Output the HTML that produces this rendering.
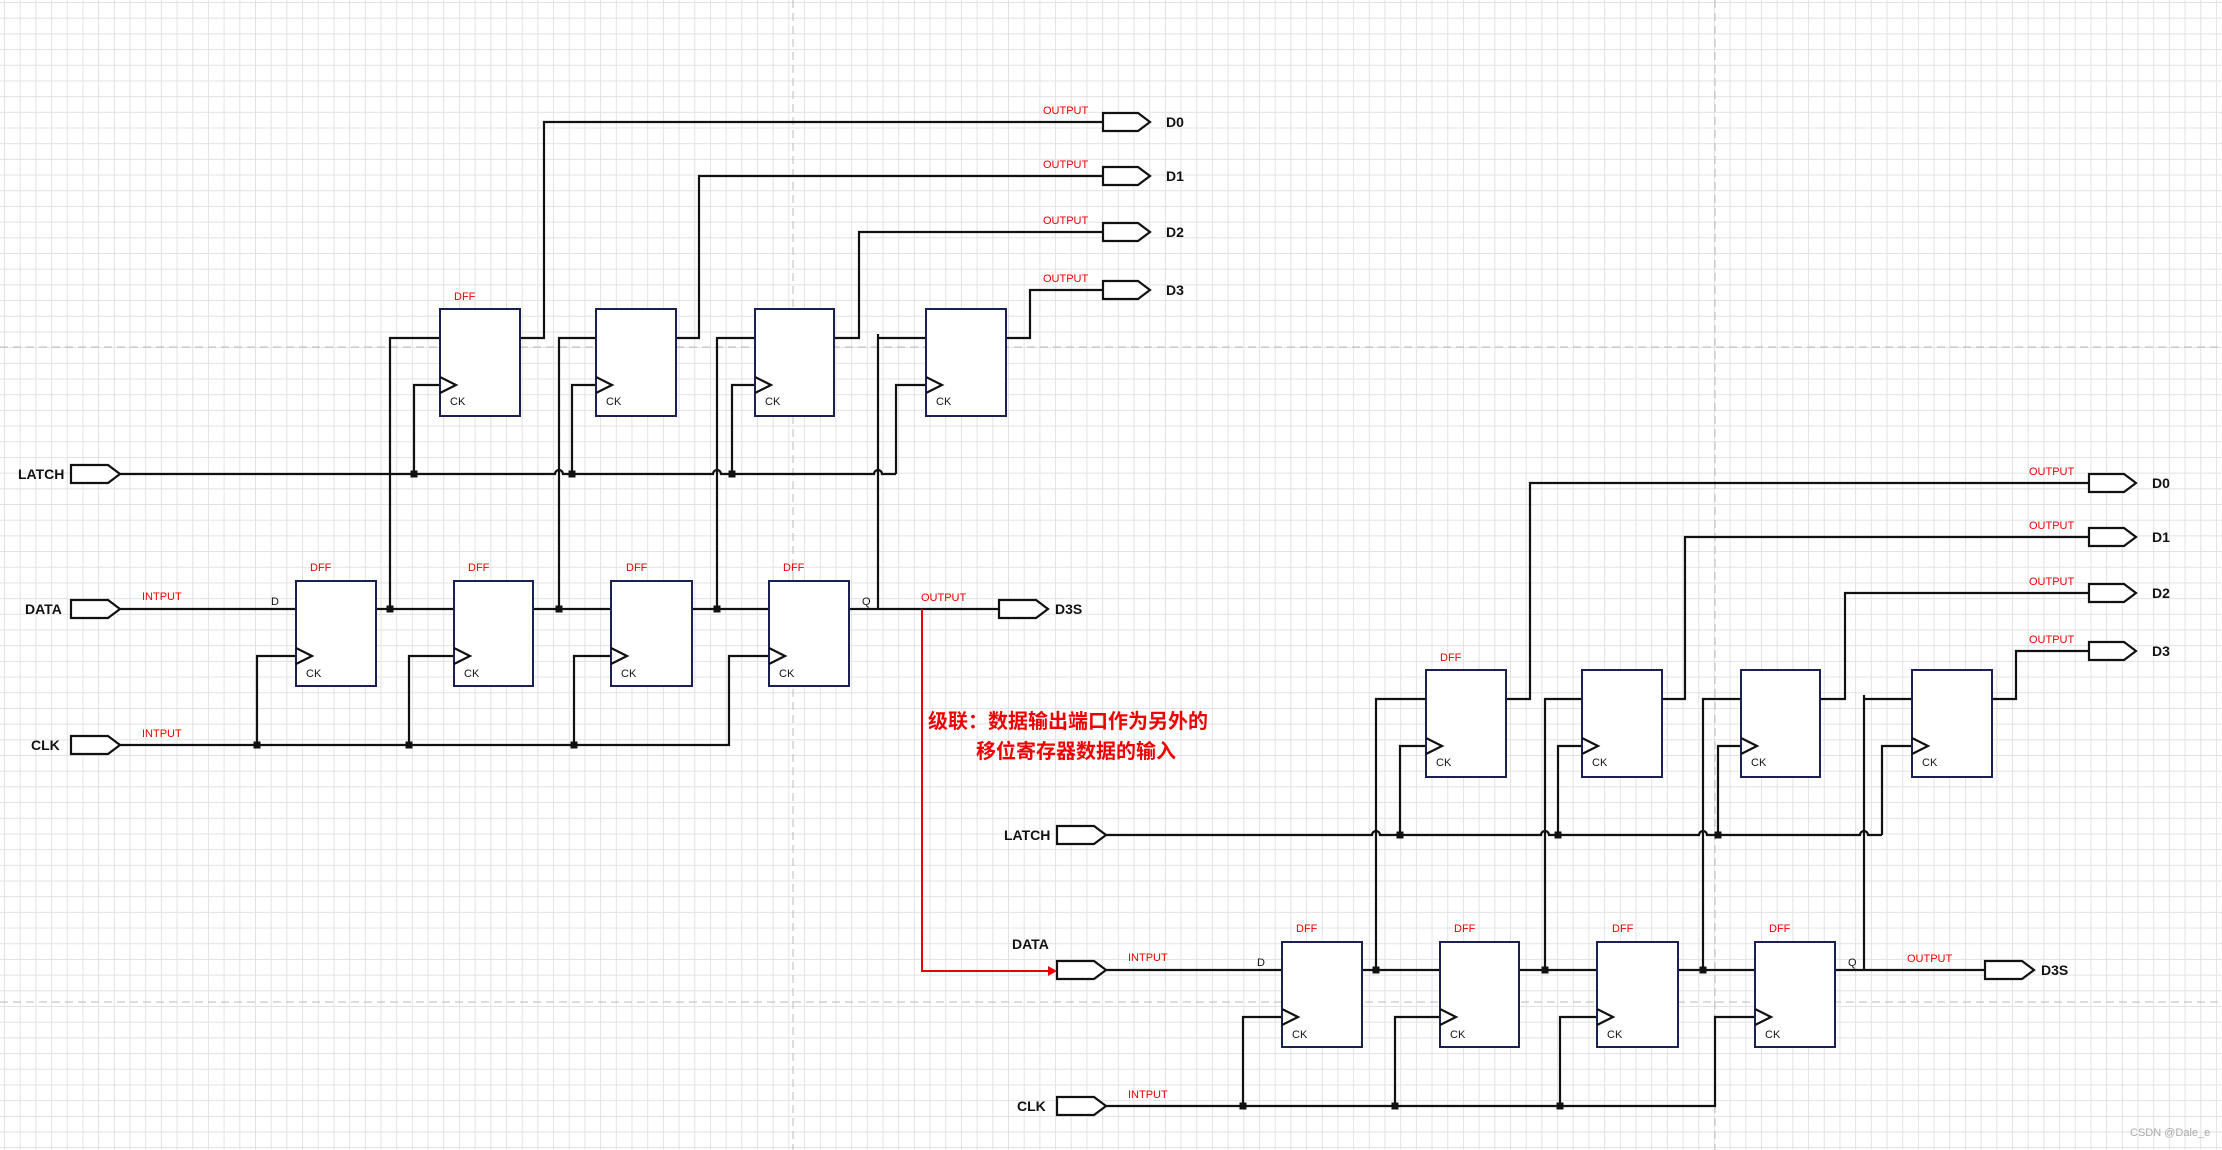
<!DOCTYPE html>
<html><head><meta charset="utf-8"><style>
html,body{margin:0;padding:0;background:#fff;}
body{width:2222px;height:1150px;overflow:hidden;
background-image:linear-gradient(to right,#e2e2e2 1px,transparent 1px),linear-gradient(to bottom,#e2e2e2 1px,transparent 1px);
background-size:15.7px 15.7px;background-position:4px 2px;}
svg{position:absolute;left:0;top:0;}
text{font-family:"Liberation Sans","Noto Sans CJK SC",sans-serif;}
.w{stroke:#111;stroke-width:2.2;fill:none;}
.b{stroke:#1a2050;stroke-width:2;fill:#fff;}
.p{stroke:#111;stroke-width:2.2;fill:#fff;}
.r{fill:#e00;font-size:11px;}
.k{fill:#111;font-size:11px;}
.l{fill:#111;font-size:14px;font-weight:bold;}
</style></head><body>
<svg width="2222" height="1150" xmlns="http://www.w3.org/2000/svg">
<g stroke="#bbb" stroke-width="1" stroke-dasharray="8,5">
<line x1="793" y1="0" x2="793" y2="1150"/><line x1="1715" y1="0" x2="1715" y2="1150"/>
<line x1="0" y1="347" x2="2222" y2="347"/><line x1="0" y1="1002" x2="2222" y2="1002"/>
</g>

<g id="c1">
<path class="w" d="M120 609H296 M376 609H454 M533 609H611 M692 609H769 M849 609H999"/>
<path class="w" d="M390 609V338H440 M559 609V338H596 M717 609V338H755 M878 609V334 M878 338H926"/>
<path class="w" d="M414 474V385H440 M572 474V385H596 M732 474V385H755 M896 474V385H926"/>
<path class="w" d="M120 474H555 a4 4 0 0 1 8 0 H713 a4 4 0 0 1 8 0 H874 a4 4 0 0 1 8 0 H896"/>
<path class="w" d="M120 745H729V656H769 M257 745V656H296 M409 745V656H454 M574 745V656H611"/>
<path class="w" d="M520 338H544V122H1103 M676 338H699V176H1103 M834 338H859V232H1103 M1006 338H1030V290H1103"/>
<g fill="#111">
<rect x="386.5" y="605.5" width="7" height="7"/><rect x="555.5" y="605.5" width="7" height="7"/><rect x="713.5" y="605.5" width="7" height="7"/>
<rect x="410.5" y="470.5" width="7" height="7"/><rect x="568.5" y="470.5" width="7" height="7"/><rect x="728.5" y="470.5" width="7" height="7"/>
<rect x="253.5" y="741.5" width="7" height="7"/><rect x="405.5" y="741.5" width="7" height="7"/><rect x="570.5" y="741.5" width="7" height="7"/>
</g>
<g class="b">
<rect x="296" y="581" width="80" height="105"/><rect x="454" y="581" width="79" height="105"/><rect x="611" y="581" width="81" height="105"/><rect x="769" y="581" width="80" height="105"/>
<rect x="440" y="309" width="80" height="107"/><rect x="596" y="309" width="80" height="107"/><rect x="755" y="309" width="79" height="107"/><rect x="926" y="309" width="80" height="107"/>
</g>
<g class="w" fill="#fff">
<path d="M296 648L312 656L296 664"/><path d="M454 648L470 656L454 664"/><path d="M611 648L627 656L611 664"/><path d="M769 648L785 656L769 664"/>
<path d="M440 377L456 385L440 393"/><path d="M596 377L612 385L596 393"/><path d="M755 377L771 385L755 393"/><path d="M926 377L942 385L926 393"/>
</g>
<g class="k">
<text x="306" y="677">CK</text><text x="464" y="677">CK</text><text x="621" y="677">CK</text><text x="779" y="677">CK</text>
<text x="450" y="405">CK</text><text x="606" y="405">CK</text><text x="765" y="405">CK</text><text x="936" y="405">CK</text>
<text x="271" y="605">D</text><text x="862" y="605">Q</text>
</g>
<g class="r">
<text x="310" y="571">DFF</text><text x="468" y="571">DFF</text><text x="626" y="571">DFF</text><text x="783" y="571">DFF</text>
<text x="454" y="300">DFF</text>
<text x="142" y="600">INTPUT</text><text x="142" y="737">INTPUT</text><text x="921" y="601">OUTPUT</text>
<text x="1043" y="114">OUTPUT</text><text x="1043" y="168">OUTPUT</text><text x="1043" y="224">OUTPUT</text><text x="1043" y="282">OUTPUT</text>
</g>
<g class="p">
<path d="M71 600H108L120 609L108 618H71Z"/><path d="M71 465H108L120 474L108 483H71Z"/><path d="M71 736H108L120 745L108 754H71Z"/>
<path d="M999 600H1036L1048 609L1036 618H999Z"/>
<path d="M1103 113H1138L1150 122L1138 131H1103Z"/><path d="M1103 167H1138L1150 176L1138 185H1103Z"/>
<path d="M1103 223H1138L1150 232L1138 241H1103Z"/><path d="M1103 281H1138L1150 290L1138 299H1103Z"/>
</g>
<g class="l">
<text x="18" y="479">LATCH</text><text x="31" y="750">CLK</text>
<text x="1055" y="614">D3S</text>
<text x="1166" y="127">D0</text><text x="1166" y="181">D1</text><text x="1166" y="237">D2</text><text x="1166" y="295">D3</text>
</g>
</g>
<text class="l" x="25" y="614">DATA</text>

<g transform="translate(986,361)">
<path class="w" d="M120 609H296 M376 609H454 M533 609H611 M692 609H769 M849 609H999"/>
<path class="w" d="M390 609V338H440 M559 609V338H596 M717 609V338H755 M878 609V334 M878 338H926"/>
<path class="w" d="M414 474V385H440 M572 474V385H596 M732 474V385H755 M896 474V385H926"/>
<path class="w" d="M120 474H386 a4 4 0 0 1 8 0 H555 a4 4 0 0 1 8 0 H713 a4 4 0 0 1 8 0 H874 a4 4 0 0 1 8 0 H896"/>
<path class="w" d="M120 745H729V656H769 M257 745V656H296 M409 745V656H454 M574 745V656H611"/>
<path class="w" d="M520 338H544V122H1103 M676 338H699V176H1103 M834 338H859V232H1103 M1006 338H1030V290H1103"/>
<g fill="#111">
<rect x="386.5" y="605.5" width="7" height="7"/><rect x="555.5" y="605.5" width="7" height="7"/><rect x="713.5" y="605.5" width="7" height="7"/>
<rect x="410.5" y="470.5" width="7" height="7"/><rect x="568.5" y="470.5" width="7" height="7"/><rect x="728.5" y="470.5" width="7" height="7"/>
<rect x="253.5" y="741.5" width="7" height="7"/><rect x="405.5" y="741.5" width="7" height="7"/><rect x="570.5" y="741.5" width="7" height="7"/>
</g>
<g class="b">
<rect x="296" y="581" width="80" height="105"/><rect x="454" y="581" width="79" height="105"/><rect x="611" y="581" width="81" height="105"/><rect x="769" y="581" width="80" height="105"/>
<rect x="440" y="309" width="80" height="107"/><rect x="596" y="309" width="80" height="107"/><rect x="755" y="309" width="79" height="107"/><rect x="926" y="309" width="80" height="107"/>
</g>
<g class="w" fill="#fff">
<path d="M296 648L312 656L296 664"/><path d="M454 648L470 656L454 664"/><path d="M611 648L627 656L611 664"/><path d="M769 648L785 656L769 664"/>
<path d="M440 377L456 385L440 393"/><path d="M596 377L612 385L596 393"/><path d="M755 377L771 385L755 393"/><path d="M926 377L942 385L926 393"/>
</g>
<g class="k">
<text x="306" y="677">CK</text><text x="464" y="677">CK</text><text x="621" y="677">CK</text><text x="779" y="677">CK</text>
<text x="450" y="405">CK</text><text x="606" y="405">CK</text><text x="765" y="405">CK</text><text x="936" y="405">CK</text>
<text x="271" y="605">D</text><text x="862" y="605">Q</text>
</g>
<g class="r">
<text x="310" y="571">DFF</text><text x="468" y="571">DFF</text><text x="626" y="571">DFF</text><text x="783" y="571">DFF</text>
<text x="454" y="300">DFF</text>
<text x="142" y="600">INTPUT</text><text x="142" y="737">INTPUT</text><text x="921" y="601">OUTPUT</text>
<text x="1043" y="114">OUTPUT</text><text x="1043" y="168">OUTPUT</text><text x="1043" y="224">OUTPUT</text><text x="1043" y="282">OUTPUT</text>
</g>
<g class="p">
<path d="M71 600H108L120 609L108 618H71Z"/><path d="M71 465H108L120 474L108 483H71Z"/><path d="M71 736H108L120 745L108 754H71Z"/>
<path d="M999 600H1036L1048 609L1036 618H999Z"/>
<path d="M1103 113H1138L1150 122L1138 131H1103Z"/><path d="M1103 167H1138L1150 176L1138 185H1103Z"/>
<path d="M1103 223H1138L1150 232L1138 241H1103Z"/><path d="M1103 281H1138L1150 290L1138 299H1103Z"/>
</g>
<g class="l">
<text x="18" y="479">LATCH</text><text x="31" y="750">CLK</text>
<text x="1055" y="614">D3S</text>
<text x="1166" y="127">D0</text><text x="1166" y="181">D1</text><text x="1166" y="237">D2</text><text x="1166" y="295">D3</text>
</g>
</g>
<text class="l" x="1012" y="949">DATA</text>

<path d="M922 609V971H1050" stroke="#e00" stroke-width="2" fill="none"/>
<path d="M1048 966L1057 971L1048 976Z" fill="#e00"/>
<text x="928" y="728" fill="#e00" font-size="20" font-weight="bold">级联：数据输出端口作为另外的</text>
<text x="976" y="758" fill="#e00" font-size="20" font-weight="bold">移位寄存器数据的输入</text>
<text x="2130" y="1136" fill="#aaa" font-size="11">CSDN @Dale_e</text>
</svg>
</body></html>
